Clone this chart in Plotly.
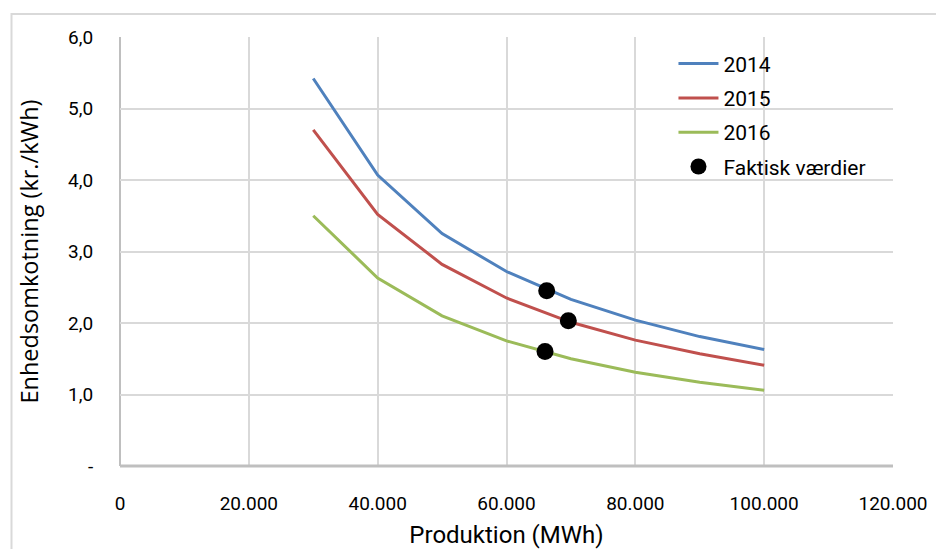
import plotly.graph_objects as go

production = [30000, 40000, 50000, 60000, 70000, 80000, 90000, 100000]
cost_2014 = [5.42, 4.07, 3.25, 2.72, 2.33, 2.04, 1.81, 1.63]
cost_2015 = [4.70, 3.52, 2.82, 2.35, 2.01, 1.76, 1.57, 1.41]
cost_2016 = [3.50, 2.63, 2.10, 1.75, 1.50, 1.31, 1.17, 1.06]

actual_x = [66240, 69600, 65980]
actual_y = [2.45, 2.03, 1.60]

x_tickvals = [0, 20000, 40000, 60000, 80000, 100000, 120000]
x_ticktext = ["0", "20.000", "40.000", "60.000", "80.000", "100.000", "120.000"]
y_tickvals = [0, 1, 2, 3, 4, 5, 6]
y_ticktext = ["-", "1,0", "2,0", "3,0", "4,0", "5,0", "6,0"]

FONT = "Roboto, Open Sans, sans-serif"

fig = go.Figure()
for name, vals, col in [("2014", cost_2014, "#4F81BD"),
                        ("2015", cost_2015, "#C0504D"),
                        ("2016", cost_2016, "#9BBB59")]:
    fig.add_trace(go.Scatter(x=production, y=vals, mode="lines", name=name,
                             legendgroup=name,
                             line=dict(color=col, width=3)))
fig.add_trace(go.Scatter(x=actual_x, y=actual_y, mode="markers",
                         name="Faktisk værdier", legendgroup="fakt",
                         marker=dict(color="black", size=17)))

fig.update_layout(
    width=936, height=549,
    margin=dict(l=120, r=43, t=37, b=83),
    paper_bgcolor="white", plot_bgcolor="white",
    font=dict(family=FONT, size=18, color="black"),
    legend=dict(x=0.716, y=0.985, xanchor="left", yanchor="top",
                bgcolor="rgba(0,0,0,0)", tracegroupgap=4,
                font=dict(size=21), itemwidth=40),
    showlegend=True,
)
fig.update_xaxes(range=[0, 120000], tickvals=x_tickvals, ticktext=x_ticktext,
                 showgrid=True, gridcolor="#D9D9D9", gridwidth=2,
                 showline=False, zeroline=False, automargin=False,
                 ticks="outside", ticklen=20, tickcolor="rgba(0,0,0,0)",
                 tickfont=dict(size=19),
                 title=dict(text="Produktion (MWh)", font=dict(size=24), standoff=16))
fig.update_yaxes(range=[0, 6], tickvals=y_tickvals, ticktext=y_ticktext,
                 showgrid=True, gridcolor="#D9D9D9", gridwidth=2,
                 showline=False, zeroline=False, automargin=False,
                 ticks="outside", ticklen=22, tickcolor="rgba(0,0,0,0)",
                 tickfont=dict(size=19),
                 title=dict(text="Enhedsomkotning (kr./kWh)",
                            font=dict(size=23.5, family="Open Sans, sans-serif"),
                            standoff=22))

# axis lines
fig.add_shape(type="line", xref="paper", yref="paper", x0=0, x1=1, y0=0, y1=0,
              line=dict(color="#BFBFBF", width=3), layer="above")
fig.add_shape(type="line", xref="paper", yref="paper", x0=0, x1=0, y0=0, y1=1,
              line=dict(color="#BFBFBF", width=2), layer="below")
# outer chart border
fig.add_shape(type="rect", xref="paper", yref="paper",
              x0=(11.5 - 120) / 773, x1=(945 - 120) / 773,
              y0=(466 - 560) / 429, y1=(466 - 14) / 429,
              line=dict(color="#D9D9D9", width=2), layer="below")

fig.write_html("out.html")
